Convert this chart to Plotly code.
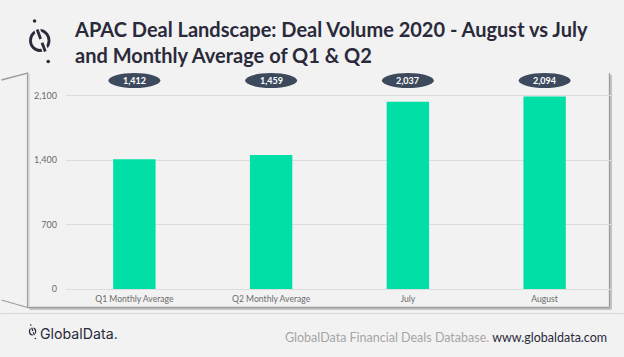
import plotly.graph_objects as go

categories = ["Q1 Monthly Average", "Q2 Monthly Average", "July", "August"]
deal_volume = [1412, 1459, 2037, 2094]
y_tick_values = [0, 700, 1400, 2100]
y_tick_labels = ["0", "700", "1,400", "2,100"]

W, H = 624, 357
ML, MR, MT, MB = 65.5, 10.5, 73, 68
PW = W - ML - MR
PH = H - MT - MB


def px(x):
    return (x - ML) / PW


def py(y):
    return (H - MB - y) / PH


BG = "#f2f2f2"
BAR = "#00dfa5"
BUBBLE = "#3d4a5e"
DARK = "#2a2a3a"
FONT = "Lato"
TICK = "#6b6b6b"

fig = go.Figure()
fig.add_trace(go.Bar(
    x=categories, y=deal_volume, marker=dict(color=BAR, line=dict(width=0)),
    width=0.31, hoverinfo="x+y",
))

shapes = []
annotations = []

# value bubbles
for i, (c, v) in enumerate(zip(categories, deal_volume)):
    shapes.append(dict(type="circle", xref="x", yref="paper",
                       xsizemode="pixel", xanchor=i, x0=-26, x1=26,
                       ysizemode="pixel", yanchor=py(80.5), y0=-7.5, y1=7.5,
                       fillcolor=BUBBLE, line=dict(width=0), layer="above"))
    annotations.append(dict(x=c, xref="x", y=py(80.5), yref="paper",
                            text=f"<b>{v:,}</b>", showarrow=False,
                            font=dict(family=FONT, size=9, color="white"),
                            xanchor="center", yanchor="middle"))

# panel frame
gray = "#9c9c9c"
shadow = "#c4c4c4"
shapes += [
    dict(type="line", xref="paper", yref="paper", x0=px(611.5), x1=px(611.5), y0=py(75), y1=py(309),
         line=dict(color=shadow, width=2), layer="below"),
    dict(type="line", xref="paper", yref="paper", x0=px(29), x1=px(612), y0=py(309), y1=py(309),
         line=dict(color=shadow, width=2), layer="below"),
    dict(type="line", xref="paper", yref="paper", x0=px(610), x1=px(610), y0=py(73), y1=py(307.5),
         line=dict(color=gray, width=1.3), layer="below"),
    dict(type="line", xref="paper", yref="paper", x0=px(27), x1=px(610), y0=py(307.5), y1=py(307.5),
         line=dict(color=gray, width=1.3), layer="below"),
    dict(type="path", xref="paper", yref="paper",
         path=f"M {px(0.8)},{py(80)} L {px(27)},{py(73)} L {px(27)},{py(307.5)} L {px(0.8)},{py(300)}",
         line=dict(color=gray, width=1.3), layer="below"),
    dict(type="line", xref="paper", yref="paper", x0=px(28.5), x1=px(28.5), y0=py(74), y1=py(307),
         line=dict(color="#d0d0d0", width=1.2), layer="below"),
    # separator line
    dict(type="line", xref="paper", yref="paper", x0=px(0), x1=px(624), y0=py(313.5), y1=py(313.5),
         line=dict(color="#d6d6d6", width=1.2), layer="below"),
]

# logo icon
def icon(cx, cy, s, lw):
    out = []
    out.append(dict(type="circle", xref="paper", yref="paper",
                    x0=px(cx - 9.3 * s), x1=px(cx + 9.3 * s), y0=py(cy - 10 * s), y1=py(cy + 10 * s),
                    line=dict(color=DARK, width=lw), fillcolor="rgba(0,0,0,0)"))
    # gap behind slash
    out.append(dict(type="line", xref="paper", yref="paper",
                    x0=px(cx - 3.2 * s), y0=py(cy - 12.5 * s), x1=px(cx + 6.4 * s), y1=py(cy + 12.5 * s),
                    line=dict(color=BG, width=lw * 2.2)))
    out.append(dict(type="line", xref="paper", yref="paper",
                    x0=px(cx - 2.6 * s), y0=py(cy - 11 * s), x1=px(cx + 0.9 * s), y1=py(cy - 1.5 * s),
                    line=dict(color=DARK, width=lw)))
    out.append(dict(type="line", xref="paper", yref="paper",
                    x0=px(cx + 2.3 * s), y0=py(cy + 2.3 * s), x1=px(cx + 5.6 * s), y1=py(cy + 11 * s),
                    line=dict(color=DARK, width=lw)))
    for dx, dy in [(-5.2, -19.5), (8.5, 21)]:
        r = 1.5 * s + 0.3
        out.append(dict(type="circle", xref="paper", yref="paper",
                        x0=px(cx + dx * s - r), x1=px(cx + dx * s + r),
                        y0=py(cy + dy * s - r), y1=py(cy + dy * s + r),
                        fillcolor=DARK, line=dict(width=0)))
    return out


shapes += icon(39.2, 40.5, 1.0, 2.8)
shapes += icon(32, 331.5, 0.33, 1.3)

# title
annotations.append(dict(x=px(72), y=py(15), xref="paper", yref="paper", xanchor="left", yanchor="top",
                        align="left", showarrow=False,
                        text="<b>APAC Deal Landscape: Deal Volume 2020 - August vs July<br>and Monthly Average of Q1 &amp; Q2</b>",
                        font=dict(family=FONT, size=20, color=DARK)))
# footer
annotations.append(dict(x=px(37.5), y=py(333), xref="paper", yref="paper", xanchor="left", yanchor="middle",
                        showarrow=False, text="GlobalData.",
                        font=dict(family="Inter", size=14.2, color=DARK)))
annotations.append(dict(x=px(609), y=py(337), xref="paper", yref="paper", xanchor="right", yanchor="middle",
                        showarrow=False,
                        text="<span style='color:#a6a6a6'>GlobalData Financial Deals Database.</span> "
                             "<span style='color:#2a2a3a'>www.globaldata.com</span>",
                        font=dict(family=FONT, size=12.5, color="#a6a6a6")))

fig.update_layout(
    width=W, height=H,
    margin=dict(l=ML, r=MR, t=MT, b=MB, pad=0),
    paper_bgcolor=BG, plot_bgcolor=BG,
    showlegend=False,
    bargap=0.69,
    shapes=shapes,
    annotations=annotations,
    font=dict(family=FONT, color=TICK),
    xaxis=dict(showgrid=False, showline=False, zeroline=False,
               tickfont=dict(family=FONT, size=8.6, color=TICK),
               ticks="", ticklabelstandoff=3),
    yaxis=dict(range=[0, 2350], tickvals=y_tick_values, ticktext=y_tick_labels,
               showgrid=True, gridcolor="#dcdcdc", gridwidth=1,
               zeroline=True, zerolinecolor="#dcdcdc", zerolinewidth=1,
               showline=False, ticks="",
               tickfont=dict(family=FONT, size=9, color=TICK),
               ticklabelstandoff=8),
)

fig.write_html("out.html", config={"displayModeBar": False},
               post_script="document.body.style.margin='0';document.body.style.overflow='hidden';document.body.style.background='#f2f2f2';")
